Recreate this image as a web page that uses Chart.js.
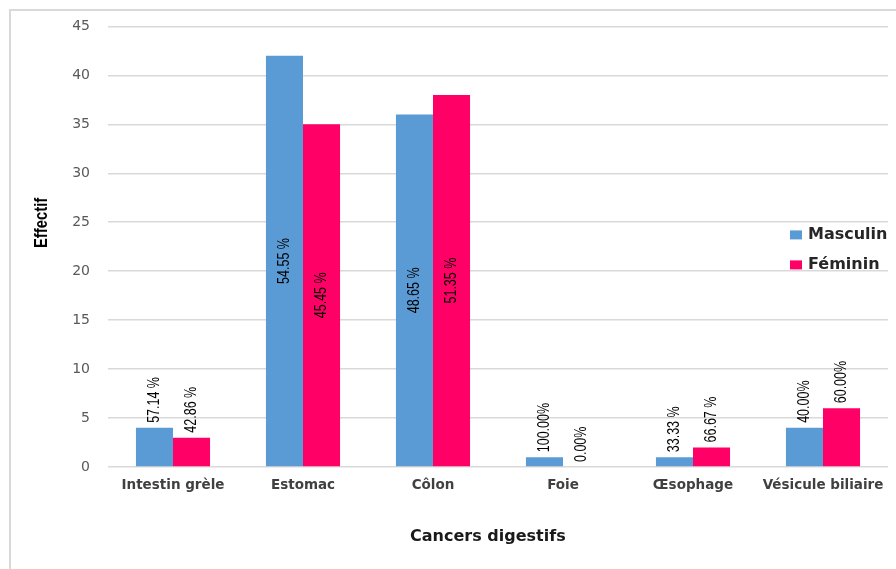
<!DOCTYPE html>
<html>
<head>
<meta charset="utf-8">
<script src="https://cdn.jsdelivr.net/npm/chart.js@4"></script>
<style>
html,body{margin:0;padding:0;background:#fff;}
#wrap{width:896px;height:569px;position:relative;}
</style>
</head>
<body>
<div id="wrap"><canvas id="c" width="896" height="569"></canvas></div>
<script>
const categories = ["Intestin grèle", "Estomac", "Côlon", "Foie", "Œsophage", "Vésicule biliaire"];
const masculin = [4, 42, 36, 1, 1, 4];
const feminin = [3, 35, 38, 0, 2, 6];
const masculinPct = ["57.14 %", "54.55 %", "48.65 %", "100.00%", "33.33 %", "40.00%"];
const femininPct = ["42.86 %", "45.45 %", "51.35 %", "0.00%", "66.67 %", "60.00%"];
const yTicks = [0, 5, 10, 15, 20, 25, 30, 35, 40, 45];
const seriesNames = ["Masculin", "Féminin"];
const yTitle = "Effectif";
const xTitle = "Cancers digestifs";
const colors = ["#5b9bd5", "#ff0066"];

const sans = "'Liberation Sans', Arial, sans-serif";
const wide = "'DejaVu Sans', sans-serif";

const frame = {
  id: 'frame',
  beforeDraw(chart) {
    const ctx = chart.ctx;
    ctx.save();
    ctx.fillStyle = '#fff';
    ctx.fillRect(0, 0, chart.width, chart.height);
    ctx.strokeStyle = '#d9d9d9';
    ctx.lineWidth = 2;
    ctx.strokeRect(10, 10, 1000, 1000);
    ctx.restore();
  }
};

// condensed vertical text (reference text looks narrow when rotated)
function drawVertical(ctx, txt, x, y, align, font, color) {
  ctx.save();
  ctx.translate(x, y);
  ctx.rotate(-Math.PI / 2);
  ctx.scale(0.78, 1);
  ctx.font = font;
  ctx.fillStyle = color;
  ctx.textAlign = align;
  ctx.textBaseline = 'middle';
  ctx.fillText(txt, 0, 0);
  ctx.restore();
}

const pctLabels = {
  id: 'pctLabels',
  afterDatasetsDraw(chart) {
    const ctx = chart.ctx;
    const pcts = [masculinPct, femininPct];
    chart.data.datasets.forEach((ds, di) => {
      const meta = chart.getDatasetMeta(di);
      meta.data.forEach((bar, i) => {
        const txt = pcts[di][i];
        const v = ds.data[i];
        if (v > 10) {
          drawVertical(ctx, txt, bar.x, (bar.y + bar.base) / 2, 'center', "16px " + sans, '#000');
        } else {
          drawVertical(ctx, txt, bar.x, bar.y - 5, 'left', "16px " + sans, '#000');
        }
      });
    });
  }
};

const titlesPlugin = {
  id: 'titlesPlugin',
  afterDraw(chart) {
    const a = chart.chartArea;
    const ctx = chart.ctx;
    drawVertical(ctx, yTitle, 42, a.top + (a.bottom - a.top) * 0.446, 'center', "bold 19px " + sans, '#000');
    ctx.save();
    ctx.font = "bold 16px " + wide;
    ctx.fillStyle = '#1a1a1a';
    ctx.textAlign = 'center';
    ctx.textBaseline = 'middle';
    ctx.fillText(xTitle, a.left + (a.right - a.left) * 0.487, chart.height - 32);
    ctx.restore();
  }
};

const legendPlugin = {
  id: 'legendPlugin',
  afterDraw(chart) {
    const ctx = chart.ctx;
    const x0 = chart.chartArea.right - 98;
    const y0 = chart.chartArea.top + 208;
    ctx.save();
    ctx.font = "bold 16px " + wide;
    ctx.textBaseline = 'middle';
    ctx.textAlign = 'left';
    chart.data.datasets.forEach((ds, di) => {
      const y = y0 + di * 30;
      ctx.fillStyle = ds.backgroundColor;
      ctx.fillRect(x0, y - 4, 12, 9);
      ctx.fillStyle = '#262626';
      ctx.fillText(ds.label, x0 + 18, y);
    });
    ctx.restore();
  }
};

new Chart(document.getElementById('c'), {
  type: 'bar',
  data: {
    labels: categories,
    datasets: [
      { label: seriesNames[0], data: masculin, backgroundColor: colors[0] },
      { label: seriesNames[1], data: feminin, backgroundColor: colors[1] }
    ]
  },
  plugins: [frame, pctLabels, titlesPlugin, legendPlugin],
  options: {
    responsive: false,
    animation: false,
    devicePixelRatio: 1,
    layout: { padding: { left: 0, top: 26, right: 8, bottom: 0 } },
    plugins: { legend: { display: false }, tooltip: { enabled: false } },
    datasets: { bar: { categoryPercentage: 0.57, barPercentage: 1.0 } },
    scales: {
      x: {
        grid: { display: false, drawTicks: false },
        border: { display: false },
        ticks: {
          padding: 10,
          color: '#404040',
          font: { family: wide, size: 13.5, weight: 'bold' },
          maxRotation: 0
        },
        afterFit(s) { s.height = 102; }
      },
      y: {
        min: 0, max: 45,
        afterBuildTicks(s) { s.ticks = yTicks.map(v => ({ value: v })); },
        grid: { color: '#d9d9d9', lineWidth: 1.5, drawTicks: false },
        border: { display: false },
        ticks: {
          padding: 18,
          color: '#595959',
          font: { family: wide, size: 14 }
        },
        afterFit(s) { s.width = 108; }
      }
    }
  }
});
</script>
</body>
</html>
